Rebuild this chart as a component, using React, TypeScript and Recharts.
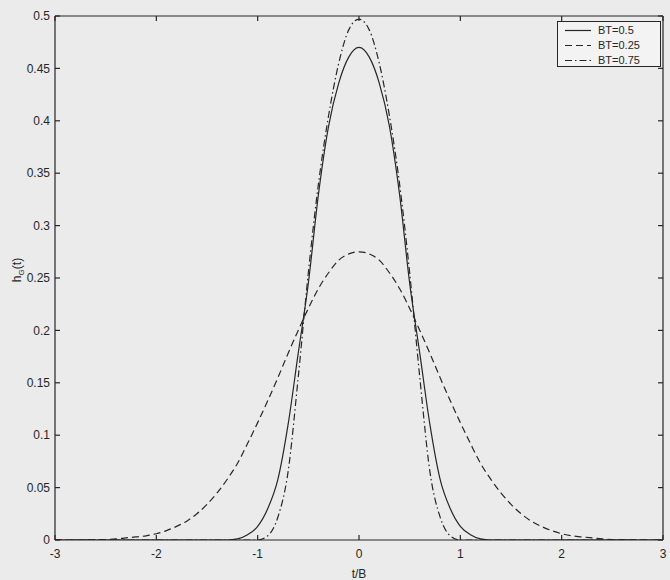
import React from 'react';
import { LineChart, Line, XAxis, YAxis, Legend } from 'recharts';

const tValues = [
  -3, -2.9, -2.8, -2.7, -2.6, -2.5, -2.4, -2.3, -2.2, -2.1,
  -2, -1.9, -1.8, -1.7, -1.6, -1.5, -1.4, -1.3, -1.2, -1.1,
  -1, -0.9, -0.8, -0.7, -0.6, -0.5, -0.4, -0.3, -0.2, -0.1,
  0,
  0.1, 0.2, 0.3, 0.4, 0.5, 0.6, 0.7, 0.8, 0.9, 1,
  1.1, 1.2, 1.3, 1.4, 1.5, 1.6, 1.7, 1.8, 1.9, 2,
  2.1, 2.2, 2.3, 2.4, 2.5, 2.6, 2.7, 2.8, 2.9, 3,
];

// BT=0.5 (solid)
const bt05 = [
  0, 0, 0, 0, 0, 0, 0, 0, 0, 0,
  0, 0, 0, 0, 0, 0, 0, 0, 0.001, 0.005,
  0.013, 0.03, 0.058, 0.11, 0.178, 0.245, 0.33, 0.395, 0.436, 0.461,
  0.47,
  0.461, 0.436, 0.395, 0.33, 0.245, 0.178, 0.11, 0.058, 0.03, 0.013,
  0.005, 0.001, 0, 0, 0, 0, 0, 0, 0, 0,
  0, 0, 0, 0, 0, 0, 0, 0, 0, 0,
];

// BT=0.25 (dashed)
const bt025 = [
  0, 0, 0, 0.0001, 0.0003, 0.0005, 0.001, 0.002, 0.003, 0.004,
  0.006, 0.009, 0.013, 0.018, 0.025, 0.034, 0.045, 0.058, 0.073, 0.092,
  0.112, 0.133, 0.155, 0.178, 0.2, 0.221, 0.24, 0.255, 0.267, 0.273,
  0.275,
  0.273, 0.267, 0.255, 0.24, 0.221, 0.2, 0.178, 0.155, 0.133, 0.112,
  0.092, 0.073, 0.058, 0.045, 0.034, 0.025, 0.018, 0.013, 0.009, 0.006,
  0.004, 0.003, 0.002, 0.001, 0.0005, 0.0003, 0.0001, 0, 0, 0,
];

// BT=0.75 (dash-dot)
const bt075 = [
  0, 0, 0, 0, 0, 0, 0, 0, 0, 0,
  0, 0, 0, 0, 0, 0, 0, 0, 0, 0,
  0, 0.004, 0.022, 0.065, 0.155, 0.255, 0.34, 0.405, 0.455, 0.487,
  0.497,
  0.487, 0.455, 0.405, 0.34, 0.255, 0.155, 0.065, 0.022, 0.004, 0,
  0, 0, 0, 0, 0, 0, 0, 0, 0, 0,
  0, 0, 0, 0, 0, 0, 0, 0, 0, 0,
];

const xTicks = [-3, -2, -1, 0, 1, 2, 3];
const yTicks = [0, 0.05, 0.1, 0.15, 0.2, 0.25, 0.3, 0.35, 0.4, 0.45, 0.5];
const seriesNames = ['BT=0.5', 'BT=0.25', 'BT=0.75'];
const xLabel = 't/B';

const data = tValues.map((t, i) => ({ t, a: bt05[i], b: bt025[i], c: bt075[i] }));

const INK = '#262626';
const FONT = '"Liberation Sans", Arial, Helvetica, sans-serif';
const DASH = ['', '7 4', '7 3 1.5 3'];

const tickStyle = { fontSize: 12, fill: INK, fontFamily: FONT };

const YLabel = (props: any) => {
  const vb = props.viewBox || { x: 0, y: 16, width: 55, height: 524 };
  const x = vb.x + 21;
  const y = vb.y + vb.height / 2 - 8;
  return (
    <text
      x={x}
      y={y}
      transform={`rotate(-90 ${x} ${y})`}
      textAnchor="middle"
      fontSize={12}
      fill={INK}
      fontFamily={FONT}
    >
      h
      <tspan fontSize={8} dy={3}>G</tspan>
      <tspan dy={-3}>(t)</tspan>
    </text>
  );
};

const LegendBox = () => (
  <div
    style={{
      border: `1px solid ${INK}`,
      background: '#f3f3f3',
      width: 104,
      height: 46,
      boxSizing: 'border-box',
      paddingTop: 1,
      fontFamily: FONT,
      fontSize: 11,
      color: INK,
    }}
  >
    {seriesNames.map((name, i) => (
      <div key={name} style={{ display: 'flex', alignItems: 'center', height: 15, lineHeight: '15px' }}>
        <svg width={40} height={15} style={{ display: 'block' }}>
          <line x1={7} x2={33} y1={7.5} y2={7.5} stroke={INK} strokeWidth={1.2} strokeDasharray={DASH[i]} />
        </svg>
        <span>{name}</span>
      </div>
    ))}
  </div>
);

export default function App() {
  return (
    <div
      style={{
        position: 'absolute',
        left: 0,
        top: 0,
        width: 670,
        height: 580,
        background: '#ebebeb',
      }}
    >
      <LineChart
        width={670}
        height={580}
        data={data}
        margin={{ top: 15, right: 6, bottom: 0, left: 0 }}
      >
        <XAxis
          dataKey="t"
          type="number"
          domain={[-3, 3]}
          ticks={xTicks}
          allowDataOverflow
          height={40}
          tick={tickStyle}
          tickSize={-5}
          tickMargin={14}
          stroke={INK}
          strokeWidth={1.2}
          tickFormatter={(v: number) => String(v)}
          label={{ value: xLabel, position: 'insideBottom', offset: 2, fontSize: 12, fill: INK, fontFamily: FONT }}
        />
        <XAxis
          xAxisId="top"
          orientation="top"
          dataKey="t"
          type="number"
          domain={[-3, 3]}
          ticks={xTicks}
          allowDataOverflow
          height={1}
          tickSize={-5}
          tickFormatter={() => ''}
          stroke={INK}
          strokeWidth={1.2}
        />
        <YAxis
          type="number"
          domain={[0, 0.5]}
          ticks={yTicks}
          allowDataOverflow
          width={55}
          tick={tickStyle}
          tickSize={-5}
          tickMargin={10}
          stroke={INK}
          strokeWidth={1.2}
          tickFormatter={(v: number) => String(v)}
          label={(p: any) => <YLabel {...p} />}
        />
        <YAxis
          yAxisId="right"
          orientation="right"
          type="number"
          domain={[0, 0.5]}
          ticks={yTicks}
          allowDataOverflow
          width={1}
          tickSize={-5}
          tickFormatter={() => ''}
          stroke={INK}
          strokeWidth={1.2}
        />
        <Legend
          layout="horizontal"
          verticalAlign="middle"
          align="center"
          content={<LegendBox />}
          wrapperStyle={{ position: 'absolute', left: 557, top: 21, width: 104, height: 46 }}
        />
        <Line
          dataKey="a"
          name={seriesNames[0]}
          type="monotone"
          stroke={INK}
          strokeWidth={1.2}
          dot={false}
          isAnimationActive={false}
        />
        <Line
          dataKey="b"
          name={seriesNames[1]}
          type="monotone"
          stroke={INK}
          strokeWidth={1.2}
          strokeDasharray={DASH[1]}
          dot={false}
          isAnimationActive={false}
        />
        <Line
          dataKey="c"
          name={seriesNames[2]}
          type="monotone"
          stroke={INK}
          strokeWidth={1.2}
          strokeDasharray={DASH[2]}
          dot={false}
          isAnimationActive={false}
        />
      </LineChart>
    </div>
  );
}
